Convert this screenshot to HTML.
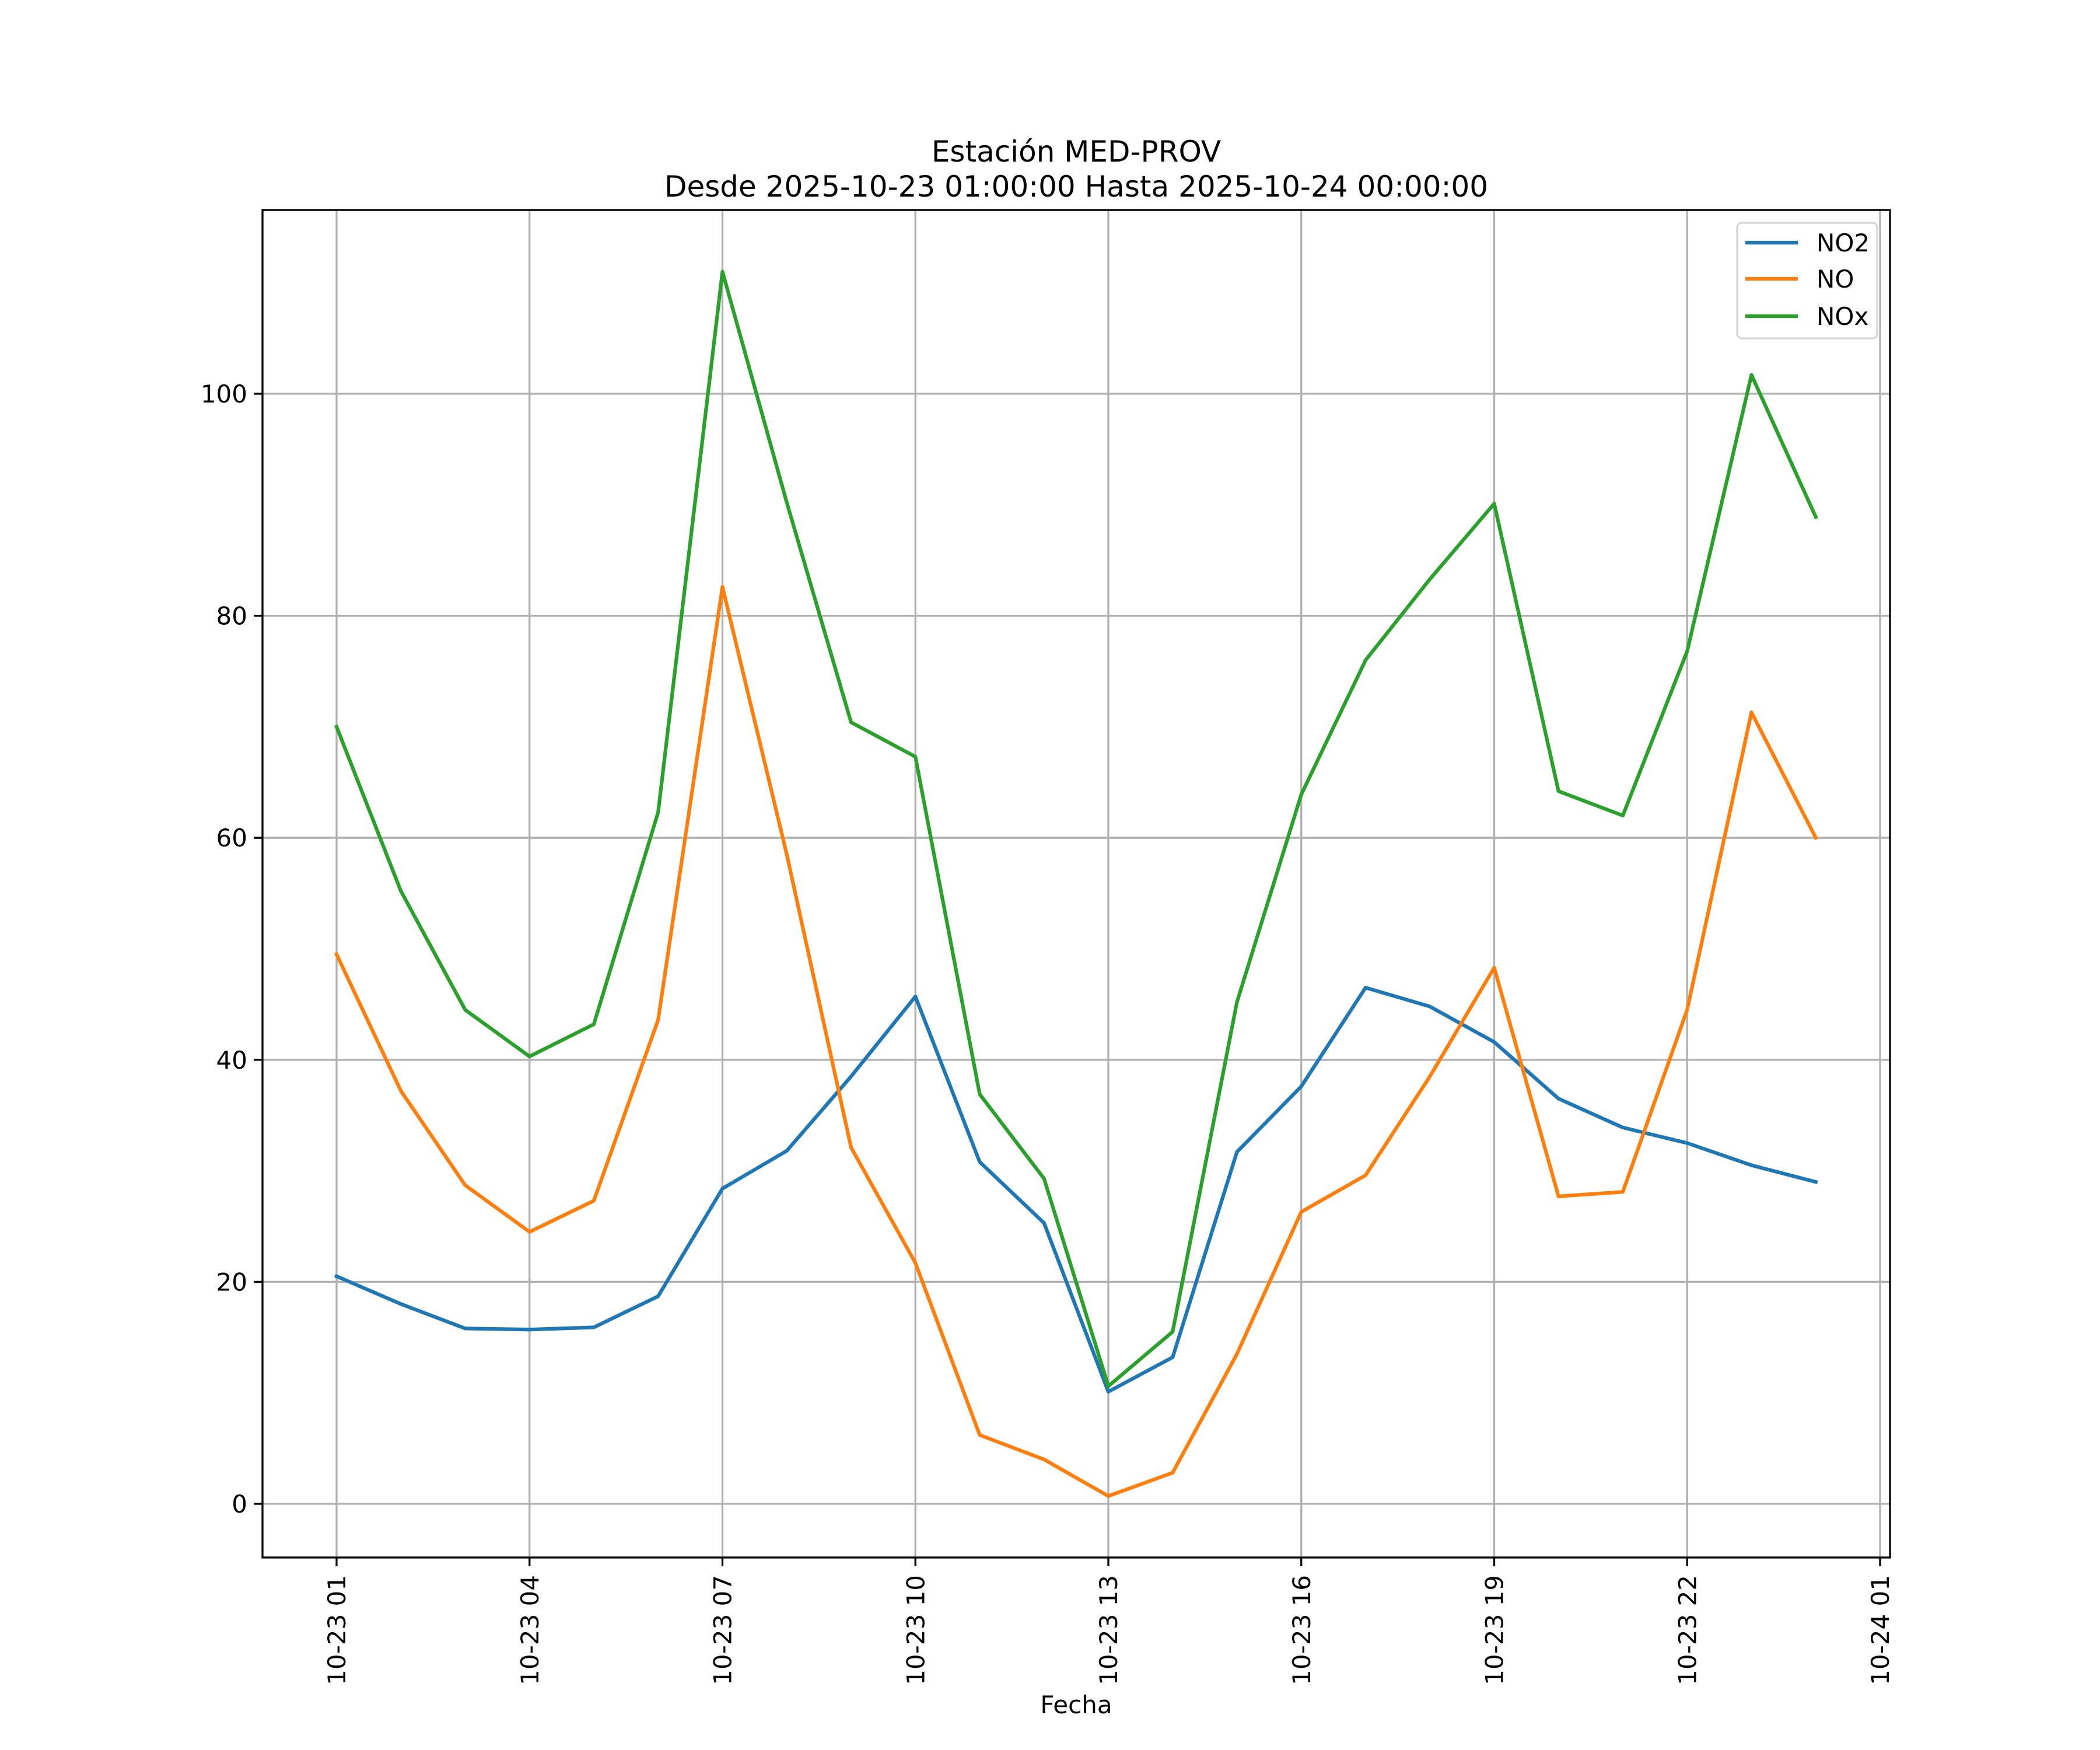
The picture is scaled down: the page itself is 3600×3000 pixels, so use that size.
<!DOCTYPE html>
<html><head><meta charset="utf-8"><style>
html,body{margin:0;padding:0;background:#fff;}
svg{display:block;}
text{font-family:"DejaVu Sans","Liberation Sans",sans-serif;fill:#000;}
</style></head><body>
<svg id="chart" width="3600" height="3000" viewBox="0 0 3600 3000">
<rect x="0" y="0" width="3600" height="3000" fill="#fff"/>
<g id="grid"></g>
<g id="series"></g>
<rect x="450" y="360" width="2790" height="2310" fill="none" stroke="#000" stroke-width="3.3"/>
<g id="ticks"></g>
<text x="1845" y="277" font-size="50" text-anchor="middle">Estación MED-PROV</text>
<text x="1845" y="337" font-size="50" text-anchor="middle">Desde 2025-10-23 01:00:00 Hasta 2025-10-24 00:00:00</text>
<text x="1845" y="2937" font-size="42" text-anchor="middle">Fecha</text>
<g>
<rect x="2978" y="382" width="240" height="198" rx="8" fill="#fff" fill-opacity="0.8" stroke="#d6d6d6" stroke-width="3.3"/>
<line x1="2992" y1="416" x2="3082" y2="416" stroke="#1f77b4" stroke-width="6.25"/>
<text x="3114" y="431" font-size="42">NO2</text>
<line x1="2992" y1="478" x2="3082" y2="478" stroke="#ff7f0e" stroke-width="6.25"/>
<text x="3114" y="493" font-size="42">NO</text>
<line x1="2992" y1="542" x2="3082" y2="542" stroke="#2ca02c" stroke-width="6.25"/>
<text x="3114" y="557" font-size="42">NOx</text>
</g>
</svg>
<script>
const hours = [1,2,3,4,5,6,7,8,9,10,11,12,13,14,15,16,17,18,19,20,21,22,23,24];
const no2 = [20.5,18,15.8,15.7,15.9,18.7,28.4,31.8,38.5,45.7,30.8,25.3,10.1,13.2,31.7,37.6,46.5,44.8,41.6,36.5,33.9,32.5,30.5,29.0];
const no = [49.5,37.2,28.7,24.5,27.3,43.6,82.6,58.5,32.1,21.7,6.2,4.0,0.7,2.8,13.5,26.3,29.6,38.5,48.3,27.7,28.1,44.5,71.3,60.0];
const nox = [70,55.2,44.5,40.3,43.2,62.3,111.0,90.2,70.4,67.3,36.9,29.3,10.6,15.5,45.2,63.9,76,83.3,90.1,64.2,62.0,76.8,101.7,88.9];
const xTickHours = [1,4,7,10,13,16,19,22,25];
const xTickLabels = ["10-23 01","10-23 04","10-23 07","10-23 10","10-23 13","10-23 16","10-23 19","10-23 22","10-24 01"];
const yTicks = [0,20,40,60,80,100];

const NS = "http://www.w3.org/2000/svg";
const X = h => 577 + (h - 1) * 110.25;
const Y = v => 2578 - v * 19.03;
const grid = document.getElementById('grid');
const ticks = document.getElementById('ticks');
const series = document.getElementById('series');
function mk(tag, attrs, parent){ const e=document.createElementNS(NS,tag); for(const k in attrs) e.setAttribute(k,attrs[k]); parent.appendChild(e); return e; }

xTickHours.forEach((h,i)=>{
  const x = X(h);
  const g = mk('line',{x1:x,y1:360,x2:x,y2:2670,stroke:'#b0b0b0','stroke-width':3.3},grid);
  
  
  const t = mk('line',{x1:x,y1:2670,x2:x,y2:2685,stroke:'#000','stroke-width':3.3},ticks);
  
  
  const lb = mk('text',{x:0,y:0,'font-size':42,'text-anchor':'end',transform:`translate(${x+15},2700) rotate(-90)`},ticks);
  lb.textContent = xTickLabels[i];
  
  
});
yTicks.forEach(v=>{
  const y = Y(v);
  const g = mk('line',{x1:450,y1:y,x2:3240,y2:y,stroke:'#b0b0b0','stroke-width':3.3},grid);
  
  
  const t = mk('line',{x1:435,y1:y,x2:450,y2:y,stroke:'#000','stroke-width':3.3},ticks);
  
  
  const lb = mk('text',{x:424,y:y+15,'font-size':42,'text-anchor':'end'},ticks);
  lb.textContent = v;
  
  
});
[[no2,'#1f77b4','no2-line'],[no,'#ff7f0e','no-line'],[nox,'#2ca02c','nox-line']].forEach(([d,c,n])=>{
  const pts = d.map((v,i)=>X(hours[i])+','+Y(v)).join(' ');
  const p = mk('polyline',{points:pts,fill:'none',stroke:c,'stroke-width':6.25,'stroke-linejoin':'round','stroke-linecap':'square'},series);
  
  
});
</script>
</body></html>
